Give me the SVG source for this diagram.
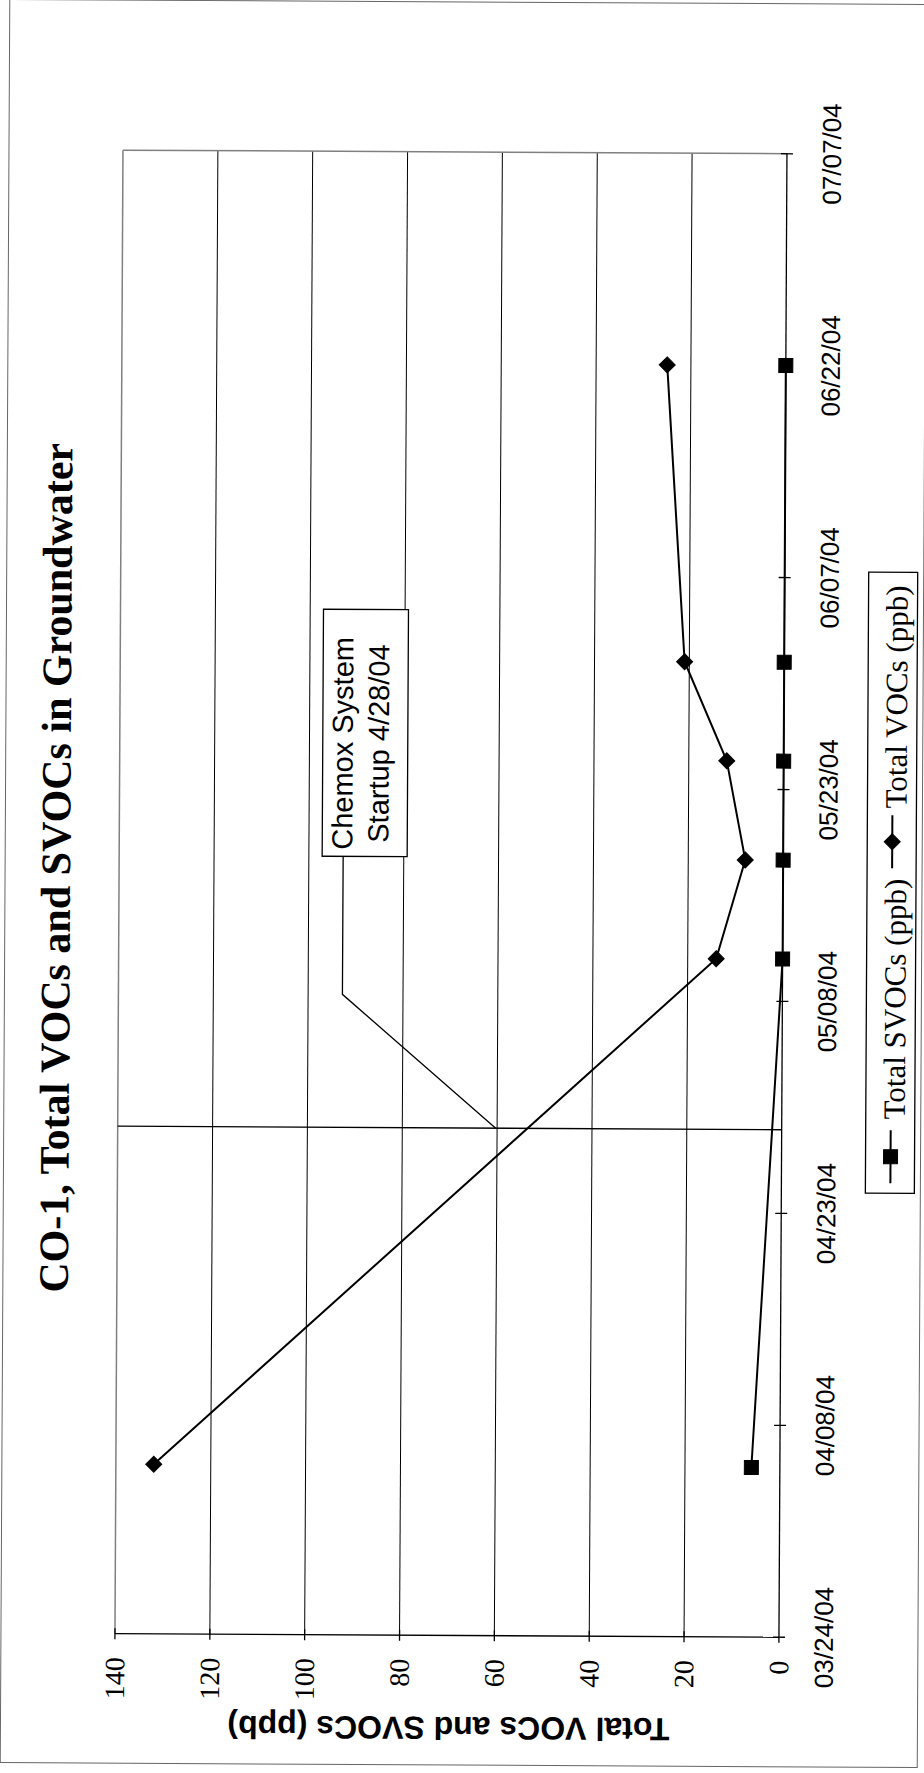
<svg xmlns="http://www.w3.org/2000/svg" width="924" height="1773" viewBox="0 0 924 1773">
<style>
.grid{stroke:#000;stroke-width:1;fill:none}
.frame{stroke:#808080;stroke-width:1.5;fill:none}
.axis{stroke:#000;stroke-width:1.3;fill:none}
.series{stroke:#000;stroke-width:2;fill:none}
.mk{fill:#000;stroke:#000;stroke-width:1}
.date{font-family:"Liberation Sans",Arial,sans-serif;font-size:26px;fill:#000;text-anchor:middle}
.val{font-family:"Liberation Serif","Times New Roman",serif;font-size:28px;fill:#000;text-anchor:end}
.title{font-family:"Liberation Serif","Times New Roman",serif;font-size:42px;font-weight:bold;fill:#000;text-anchor:middle}
.atitle{font-family:"Liberation Sans",Arial,sans-serif;font-size:32px;font-weight:bold;fill:#000;text-anchor:middle}
.call{font-family:"Liberation Sans",Arial,sans-serif;font-size:29px;fill:#000;text-anchor:middle}
.leg{font-family:"Liberation Serif","Times New Roman",serif;font-size:31px;fill:#000}
.box{fill:#fff;stroke:#000;stroke-width:1.3}
</style>
<defs>
<rect id="sq" x="-7" y="-7" width="14" height="14"/>
<path id="dia" d="M0,-8 L8,0 L0,8 L-8,0Z"/>
</defs>
<rect width="924" height="1773" fill="#fff"/>
<g transform="rotate(0.31 462 886)">
<rect id="chart-border" x="5" y="2" width="917" height="1763" fill="none" stroke="#666" stroke-width="1"/>
<g id="title">
<text class="title" x="70" y="870" transform="rotate(-90 70 870)">CO-1, Total VOCs and SVOCs in Groundwater</text>
</g>
<g id="gridlines">
<line class="grid" x1="688.1" y1="152" x2="688.1" y2="1635.5"/>
<line class="grid" x1="593.3" y1="152" x2="593.3" y2="1635.5"/>
<line class="grid" x1="498.4" y1="152" x2="498.4" y2="1635.5"/>
<line class="grid" x1="403.6" y1="152" x2="403.6" y2="1635.5"/>
<line class="grid" x1="308.7" y1="152" x2="308.7" y2="1635.5"/>
<line class="grid" x1="213.9" y1="152" x2="213.9" y2="1635.5"/>
<line class="frame" x1="119" y1="152" x2="783" y2="152"/>
<line class="frame" x1="119" y1="152" x2="119" y2="1635.5"/>
</g>
<g id="value-axis">
<line class="axis" x1="119" y1="1635.5" x2="783" y2="1635.5"/>
<path class="axis" d="M119,1630V1641M213.9,1630V1641M308.7,1630V1641M403.6,1630V1641M498.4,1630V1641M593.3,1630V1641M688.1,1630V1641"/>
<text class="val" x="128.5" y="1659" transform="rotate(-90 128.5 1659)">140</text>
<text class="val" x="223.4" y="1659" transform="rotate(-90 223.4 1659)">120</text>
<text class="val" x="318.2" y="1659" transform="rotate(-90 318.2 1659)">100</text>
<text class="val" x="413.1" y="1659" transform="rotate(-90 413.1 1659)">80</text>
<text class="val" x="507.9" y="1659" transform="rotate(-90 507.9 1659)">60</text>
<text class="val" x="602.8" y="1659" transform="rotate(-90 602.8 1659)">40</text>
<text class="val" x="697.6" y="1659" transform="rotate(-90 697.6 1659)">20</text>
<text class="val" x="792.5" y="1659" transform="rotate(-90 792.5 1659)">0</text>
<text class="atitle" x="453" y="1717" transform="rotate(180 453 1717)">Total VOCs and SVOCs (ppb)</text>
</g>
<g id="category-axis">
<line class="axis" x1="783" y1="152" x2="783" y2="1641"/>
<path class="axis" d="M777,1635.5H789M777,1423.6H789M777,1211.6H789M777,999.7H789M777,787.8H789M777,575.8H789M777,363.9H789M777,152H789"/>
<text class="date" x="837" y="1635.5" transform="rotate(-90 837 1635.5)">03/24/04</text>
<text class="date" x="837" y="1423.6" transform="rotate(-90 837 1423.6)">04/08/04</text>
<text class="date" x="837" y="1211.6" transform="rotate(-90 837 1211.6)">04/23/04</text>
<text class="date" x="837" y="999.7" transform="rotate(-90 837 999.7)">05/08/04</text>
<text class="date" x="837" y="787.8" transform="rotate(-90 837 787.8)">05/23/04</text>
<text class="date" x="837" y="575.8" transform="rotate(-90 837 575.8)">06/07/04</text>
<text class="date" x="837" y="363.9" transform="rotate(-90 837 363.9)">06/22/04</text>
<text class="date" x="837" y="152" transform="rotate(-90 837 152)">07/07/04</text>
</g>
<g id="connectors">
<line id="startup-line" class="axis" x1="119" y1="1128" x2="783" y2="1128"/>
<polyline id="leader" class="axis" points="343,857 343,995 497,1128"/>
<polyline id="voc-line" class="series" points="156.9,1465.9 716.6,957.3 745.1,858.4 726.1,759.4 683.4,660.5 664.4,363.8"/>
<polyline id="svoc-line" class="series" points="754.5,1465.9 783,957.3 783,858.4 783,759.4 783,660.5 783,363.8"/>
</g>
<g id="voc-markers" class="mk">
<use href="#dia" x="156.9" y="1465.9"/>
<use href="#dia" x="716.6" y="957.3"/>
<use href="#dia" x="745.1" y="858.4"/>
<use href="#dia" x="726.1" y="759.4"/>
<use href="#dia" x="683.4" y="660.5"/>
<use href="#dia" x="664.4" y="363.8"/>
</g>
<g id="svoc-markers" class="mk">
<use href="#sq" x="754.5" y="1465.9"/>
<use href="#sq" x="783" y="957.3"/>
<use href="#sq" x="783" y="858.4"/>
<use href="#sq" x="783" y="759.4"/>
<use href="#sq" x="783" y="660.5"/>
<use href="#sq" x="783" y="363.8"/>
</g>
<g id="callout">
<rect class="box" x="322" y="610" width="85" height="247"/>
<text class="call" x="352" y="744" transform="rotate(-90 352 744)">Chemox System</text>
<text class="call" x="388" y="744" transform="rotate(-90 388 744)">Startup 4/28/04</text>
</g>
<g id="legend">
<rect class="box" x="867" y="570" width="49" height="621" stroke-width="1"/>
<line class="series" x1="892" y1="1181" x2="892" y2="1128"/>
<use class="mk" href="#sq" x="892" y="1154.5"/>
<text class="leg" x="906" y="1117" transform="rotate(-90 906 1117)">Total SVOCs (ppb)</text>
<line class="series" x1="892" y1="866" x2="892" y2="813"/>
<use class="mk" href="#dia" x="892" y="839.5"/>
<text class="leg" x="906" y="806" transform="rotate(-90 906 806)">Total VOCs (ppb)</text>
</g>
</g>
</svg>
